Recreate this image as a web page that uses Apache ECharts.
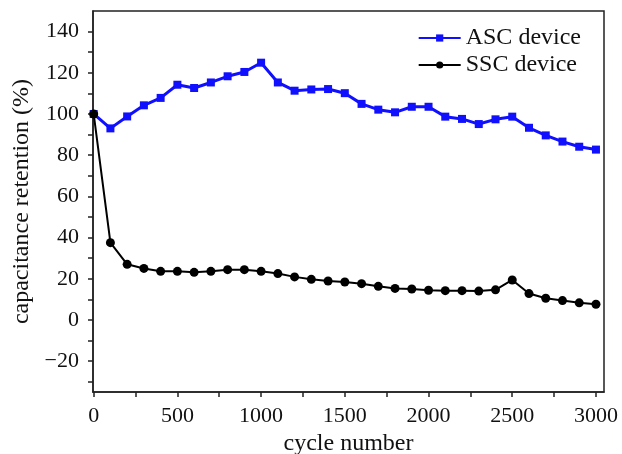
<!DOCTYPE html>
<html>
<head>
<meta charset="utf-8">
<script src="https://cdn.jsdelivr.net/npm/echarts@6/dist/echarts.min.js"></script>
<style>
    html, body { margin: 0; padding: 0; background: #fff; }
    #chart { width: 622px; height: 454px; }
</style>
</head>
<body>
<div id="chart"></div>
<script>
// cycle numbers
var cycles = [0, 100, 200, 300, 400, 500, 600, 700, 800, 900, 1000, 1100, 1200, 1300, 1400, 1500,
    1600, 1700, 1800, 1900, 2000, 2100, 2200, 2300, 2400, 2500, 2600, 2700, 2800, 2900, 3000]

// capacitance retention (%)
var ascValues = [100, 93, 98.8, 104.2, 107.8, 114.2, 112.6, 115.3, 118.3, 120.4, 124.9, 115.3, 111.3, 111.9, 112.1, 110.1,
    104.9, 102.1, 100.8, 103.5, 103.5, 98.7, 97.6, 95.1, 97.4, 98.7, 93.3, 89.6, 86.6, 84.1, 82.7]
var sscValues = [100, 37.5, 27.0, 25.0, 23.6, 23.6, 23.1, 23.6, 24.4, 24.4, 23.6, 22.5, 20.9, 19.7, 18.9, 18.4,
    17.6, 16.3, 15.3, 15.0, 14.4, 14.2, 14.2, 14.0, 14.6, 19.4, 12.8, 10.5, 9.4, 8.3, 7.6]

// ticks
var xLabels = [0, 500, 1000, 1500, 2000, 2500, 3000]
var xTicks = [0, 250, 500, 750, 1000, 1250, 1500, 1750, 2000, 2250, 2500, 2750, 3000]
var yLabels = [-20, 0, 20, 40, 60, 80, 100, 120, 140]
var yTicks = [-30, -20, -10, 0, 10, 20, 30, 40, 50, 60, 70, 80, 90, 100, 110, 120, 130, 140]

var font = '"Liberation Serif", "DejaVu Serif", serif'

var chart = echarts.init(document.getElementById('chart'))

var pair = (xs, ys) => xs.map((x, i) => [x, ys[i]])

chart.setOption({
    animation: false,
    backgroundColor: '#fff',
    grid: {
        left: 93,
        right: 18,
        top: 11,
        bottom: 62,
        outerBoundsMode: 'none',
        show: true,
        borderColor: '#222',
        borderWidth: 1.5
    },
    legend: {
        right: 36,
        top: 21,
        orient: 'vertical',
        itemWidth: 42,
        itemHeight: 9,
        itemGap: 3,
        textStyle: { fontFamily: font, fontSize: 24, color: '#111' },
        data: ['ASC device', 'SSC device']
    },
    xAxis: {
        type: 'value',
        min: -4,
        max: 3048,
        name: 'cycle number',
        nameLocation: 'middle',
        nameGap: 37,
        nameTextStyle: { fontFamily: font, fontSize: 24, color: '#111' },
        axisLine: { onZero: false, lineStyle: { color: '#222', width: 1.5 } },
        axisTick: { show: true, length: 5, lineStyle: { color: '#222', width: 1.5 }, customValues: xTicks },
        axisLabel: {
            fontFamily: font, fontSize: 22, color: '#111', margin: 13,
            customValues: xLabels,
            formatter: (v) => String(v)
        },
        splitLine: { show: false }
    },
    yAxis: {
        type: 'value',
        min: -35,
        max: 150,
        name: 'capacitance retention (%)',
        nameLocation: 'middle',
        nameGap: 57,
        nameTextStyle: { fontFamily: font, fontSize: 24, color: '#111' },
        axisLine: { onZero: false, lineStyle: { color: '#222', width: 1.5 } },
        axisTick: { show: true, length: 5, lineStyle: { color: '#222', width: 1.5 }, customValues: yTicks },
        axisLabel: {
            fontFamily: font, fontSize: 22, color: '#111', margin: 14,
            customValues: yLabels,
            formatter: (v) => String(v).replace('-', '\u2212')
        },
        splitLine: { show: false }
    },
    series: [
        {
            name: 'ASC device',
            type: 'line',
            data: pair(cycles, ascValues),
            symbol: 'rect',
            symbolSize: 8,
            color: '#1010ff',
            lineStyle: { width: 3, color: '#1010ff' },
            itemStyle: { color: '#1010ff' }
        },
        {
            name: 'SSC device',
            type: 'line',
            data: pair(cycles, sscValues),
            symbol: 'circle',
            symbolSize: 9,
            color: '#000',
            lineStyle: { width: 2, color: '#000' },
            itemStyle: { color: '#000' }
        }
    ]
})
</script>
</body>
</html>
